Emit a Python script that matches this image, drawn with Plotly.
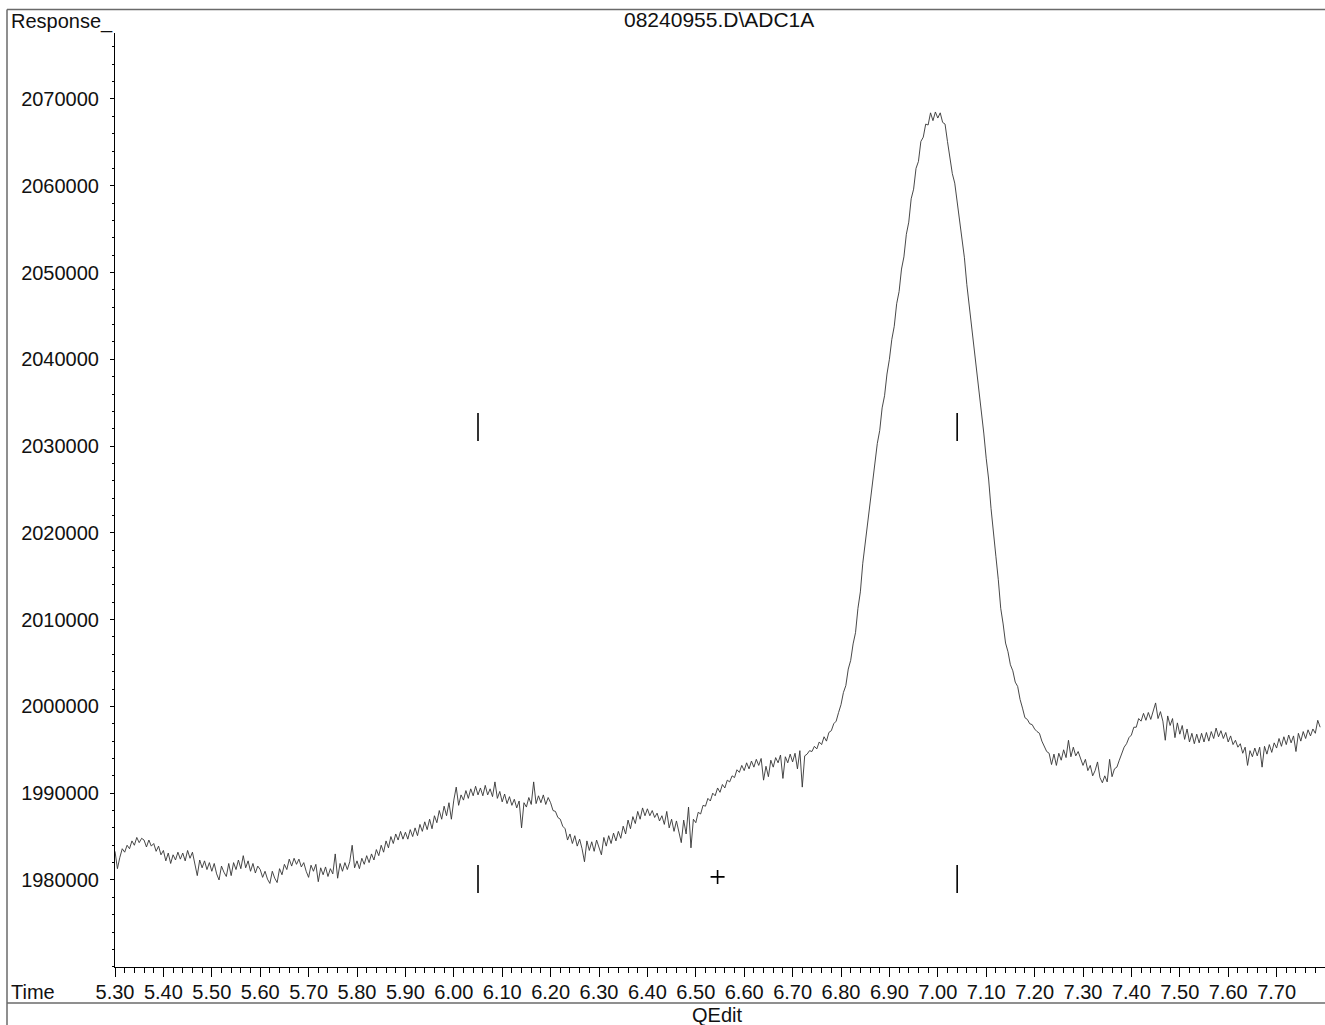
import plotly.graph_objects as go

# ---- signal: detector response (x1000 counts), sampled every 0.005 min from 5.30 min ----
TIME_START = 5.30
TIME_STEP = 0.005
response_k = [
    1983.3, 1981.3, 1982.6, 1983.6, 1983.2, 1984.0, 1983.6, 1984.5, 1984.0, 1984.9, 1984.3, 1984.8, 1984.6, 1983.8, 1984.6, 1983.9, 1984.2, 1983.3, 1983.9, 1982.9,
    1983.4, 1982.2, 1983.1, 1981.9, 1982.9, 1982.3, 1983.2, 1982.4, 1983.1, 1982.2, 1983.4, 1982.5, 1983.2, 1981.9, 1980.5, 1982.3, 1981.4, 1982.2, 1981.2, 1982.0,
    1981.0, 1981.9, 1980.7, 1980.0, 1981.6, 1980.9, 1980.4, 1981.9, 1980.5, 1982.0, 1981.2, 1982.3, 1981.3, 1982.8, 1981.4, 1982.2, 1981.0, 1981.9, 1980.8, 1981.6,
    1981.2, 1980.3, 1981.0, 1980.1, 1979.6, 1981.0, 1980.2, 1979.7, 1981.3, 1980.6, 1981.8, 1981.2, 1982.4, 1981.6, 1982.5, 1981.8, 1982.4, 1981.5, 1982.0, 1981.0,
    1980.3, 1981.7, 1981.0, 1981.8, 1979.8, 1981.4, 1980.6, 1981.5, 1980.4, 1981.3, 1980.7, 1983.0, 1980.2, 1981.9, 1981.0, 1982.0, 1981.2, 1982.1, 1984.0, 1981.4,
    1982.2, 1981.3, 1982.5, 1981.8, 1982.8, 1982.0, 1983.0, 1982.3, 1983.5, 1982.8, 1984.0, 1983.2, 1984.5, 1983.7, 1985.0, 1984.2, 1985.3, 1984.6, 1985.6, 1984.7,
    1985.5, 1984.7, 1985.8, 1985.0, 1986.0, 1985.1, 1986.4, 1985.6, 1986.7, 1985.8, 1987.0, 1985.9, 1987.4, 1986.6, 1988.0, 1987.0, 1988.5, 1987.4, 1988.9, 1987.0,
    1989.2, 1990.7, 1988.6, 1989.8, 1989.2, 1990.3, 1989.4, 1990.5, 1989.7, 1990.8, 1989.8, 1990.6, 1989.7, 1990.9, 1989.8, 1990.5, 1989.6, 1991.3, 1989.4, 1990.2,
    1989.0, 1989.9, 1988.8, 1989.6, 1988.6, 1989.3, 1988.3, 1989.1, 1986.0, 1988.9, 1988.4, 1989.5, 1988.7, 1991.3, 1988.8, 1989.7, 1988.9, 1989.8, 1988.7, 1989.5,
    1988.9, 1988.0, 1987.9, 1987.2, 1987.0, 1986.2, 1985.9, 1984.6, 1985.3, 1984.2, 1985.1, 1983.9, 1984.7, 1983.6, 1982.1, 1984.5, 1983.4, 1984.4, 1983.3, 1984.6,
    1983.6, 1982.9, 1984.9, 1983.9, 1985.1, 1984.2, 1985.4, 1984.5, 1985.6, 1984.8, 1986.2, 1985.3, 1986.9, 1985.9, 1987.3, 1986.5, 1987.9, 1987.0, 1988.3, 1987.4,
    1988.2, 1987.4, 1988.0, 1987.2, 1987.7, 1986.8, 1987.4, 1986.4, 1987.9, 1986.0, 1987.0, 1985.6, 1986.8, 1985.4, 1984.3, 1986.9, 1985.3, 1988.4, 1983.7, 1987.0,
    1986.6, 1987.8, 1987.6, 1988.6, 1988.5, 1989.4, 1989.1, 1990.0, 1989.7, 1990.6, 1990.1, 1991.0, 1990.6, 1991.5, 1991.3, 1992.0, 1991.8, 1992.7, 1992.4, 1993.2,
    1992.6, 1993.5, 1992.8, 1993.7, 1993.0, 1993.9, 1993.2, 1994.0, 1991.5, 1993.1, 1991.9, 1993.8, 1993.0, 1994.1, 1993.5, 1994.4, 1991.7, 1994.2, 1993.5, 1994.5,
    1993.6, 1994.6, 1992.8, 1994.9, 1990.7, 1994.3, 1994.5, 1994.9, 1994.8, 1995.4, 1995.1, 1995.9, 1995.6, 1996.5, 1996.0, 1997.0, 1997.2, 1998.0, 1998.3, 1999.3,
    2000.2, 2001.6, 2002.4, 2004.3, 2005.3, 2007.2, 2008.5, 2011.3, 2013.2, 2016.5, 2018.8, 2021.6, 2023.3, 2025.9, 2027.8, 2030.3, 2031.8, 2034.4, 2035.8, 2038.3,
    2040.0, 2042.3, 2043.8, 2046.4, 2047.8, 2050.4, 2051.8, 2054.4, 2055.8, 2058.5, 2059.6, 2062.0, 2062.8, 2065.1, 2065.6, 2067.1, 2067.0, 2068.4, 2067.5, 2068.5,
    2067.8, 2068.4, 2067.3, 2067.1, 2065.1, 2063.3, 2061.4, 2060.3, 2058.1, 2056.5, 2053.8, 2051.7, 2048.6, 2046.2, 2043.3, 2041.2, 2038.5, 2036.4, 2033.6, 2031.5,
    2028.6, 2026.2, 2022.8, 2020.4, 2017.3, 2014.6, 2011.3, 2009.5, 2007.3, 2006.3, 2004.8, 2004.1, 2002.8, 2002.3, 2000.8, 1999.8, 1998.7, 1998.5, 1998.0, 1997.9,
    1997.4, 1997.1, 1996.9, 1996.0, 1995.4, 1994.8, 1994.6, 1993.3, 1994.5, 1993.2, 1994.6, 1993.8, 1995.0, 1994.1, 1996.1, 1994.2, 1995.3, 1994.3, 1994.8, 1993.9,
    1993.2, 1993.9, 1992.6, 1993.2, 1992.0, 1992.6, 1993.6, 1991.8, 1991.2, 1992.0, 1991.3, 1993.9, 1991.9, 1992.8, 1993.0, 1993.8, 1994.6, 1995.3, 1995.7, 1996.4,
    1996.7, 1997.6, 1997.6, 1998.6, 1998.3, 1999.2, 1998.4, 1999.3, 1998.5, 1999.5, 2000.4, 1998.6, 1999.4, 1998.3, 1996.1, 1998.9, 1997.8, 1998.6, 1996.4, 1998.1,
    1996.8, 1997.8, 1996.2, 1997.4, 1995.9, 1996.9, 1995.7, 1996.8, 1995.8, 1996.9, 1995.9, 1997.0, 1996.0, 1997.1, 1996.3, 1997.5, 1996.5, 1997.2, 1996.3, 1997.0,
    1995.9, 1996.6, 1995.6, 1996.1, 1995.3, 1995.7, 1994.6, 1995.3, 1993.2, 1994.9, 1994.2, 1995.2, 1994.3, 1995.3, 1993.0, 1995.4, 1994.5, 1995.6, 1994.7, 1995.8,
    1995.2, 1996.3, 1995.4, 1996.5, 1995.6, 1996.7, 1995.8, 1996.6, 1994.8, 1996.9, 1996.0, 1997.1, 1996.3, 1997.3, 1996.6, 1997.4, 1996.9, 1998.4, 1997.6,
]
time_min = [round(TIME_START + i * TIME_STEP, 3) for i in range(len(response_k))]
response = [v * 1000 for v in response_k]

# integration event marks (peak start / end) and the apex marker
bar_time = [6.05, 7.04, 6.05, 7.04]
bar_response = [2032200, 2032200, 1980100, 1980100]
apex_time = [6.545]
apex_response = [1980350]

# axes
x_tick_vals = [round(5.30 + 0.1 * i, 2) for i in range(25)]
x_tick_text = [f"{v:.2f}" for v in x_tick_vals]
x_minor_vals = [round(5.30 + 0.02 * i, 2) for i in range(126)]
y_tick_vals = list(range(1980000, 2070001, 10000))
y_tick_text = [str(v) for v in y_tick_vals]
y_minor_vals = list(range(1970000, 2077001, 2000))

X_RANGE = [5.30, 7.80]
Y_RANGE = [1969970, 2077600]

TITLE = "08240955.D\\ADC1A"

# ---- page geometry (pixels) ----
W, H = 1325, 1025
PL, PT, PW, PH = 115, 33, 1210, 934
FONT = "Liberation Sans, Arial, Helvetica, sans-serif"
INK = "#111111"
FRAME = "#6a6a6a"


def px(xpix):
    return (xpix - PL) / PW


def py(ypix):
    return (PT + PH - ypix) / PH


fig = go.Figure()
fig.add_trace(go.Scatter(
    x=time_min, y=response, mode="lines",
    line=dict(color="#333333", width=0.9),
    hoverinfo="skip",
))
fig.add_trace(go.Scatter(
    x=bar_time, y=bar_response, mode="markers",
    marker=dict(symbol="line-ns", size=20, color="black",
                line=dict(color="black", width=1.6)),
    hoverinfo="skip",
))
fig.add_trace(go.Scatter(
    x=apex_time, y=apex_response, mode="markers",
    marker=dict(symbol="cross-thin", size=10, color="black",
                line=dict(color="black", width=1.6)),
    hoverinfo="skip",
))

tick_font = dict(family=FONT, size=20, color=INK)

fig.update_xaxes(
    range=X_RANGE, tickmode="array", tickvals=x_tick_vals, ticktext=x_tick_text,
    showline=True, linecolor="black", linewidth=1,
    ticks="outside", ticklen=9, tickwidth=1, tickcolor="black",
    minor=dict(tickmode="array", tickvals=x_minor_vals, ticks="outside",
               ticklen=5, tickwidth=1, tickcolor="black", showgrid=False),
    showgrid=False, zeroline=False, tickfont=tick_font, ticklabelstandoff=-2,
)
fig.update_yaxes(
    range=Y_RANGE, tickmode="array", tickvals=y_tick_vals, ticktext=y_tick_text,
    showline=True, linecolor="black", linewidth=1,
    ticks="outside", ticklen=4, tickwidth=1, tickcolor="black",
    minor=dict(tickmode="array", tickvals=y_minor_vals, ticks="outside",
               ticklen=2, tickwidth=1, tickcolor="black", showgrid=False),
    showgrid=False, zeroline=False, tickfont=tick_font, ticklabelstandoff=7,
)

text_font = dict(family=FONT, size=20, color=INK)
annotations = [
    dict(text="Response_", x=px(9), y=py(22), xanchor="left", yanchor="middle"),
    dict(text=TITLE, x=px(719), y=py(20), xanchor="center", yanchor="middle",
         font=dict(family=FONT, size=21, color=INK)),
    dict(text="Time", x=px(9), y=py(992), xanchor="left", yanchor="middle"),
    dict(text="QEdit", x=px(717), y=py(1015), xanchor="center", yanchor="middle"),
]
for a in annotations:
    a.update(xref="paper", yref="paper", showarrow=False)
    a.setdefault("font", text_font)

frame_line = dict(color=FRAME, width=1.5)
shapes = [
    dict(type="line", x0=px(7), x1=px(W), y0=py(9.5), y1=py(9.5), line=frame_line),
    dict(type="line", x0=px(7), x1=px(7), y0=py(9.5), y1=py(H), line=frame_line),
    dict(type="line", x0=px(7), x1=px(W), y0=py(1003), y1=py(1003), line=frame_line),
]
for s in shapes:
    s.update(xref="paper", yref="paper", layer="above")

fig.update_layout(
    width=W, height=H,
    margin=dict(l=PL, r=W - PL - PW, t=PT, b=H - PT - PH, pad=0),
    paper_bgcolor="white", plot_bgcolor="white",
    showlegend=False, hovermode=False,
    annotations=annotations, shapes=shapes,
)

fig.write_html("out.html")
